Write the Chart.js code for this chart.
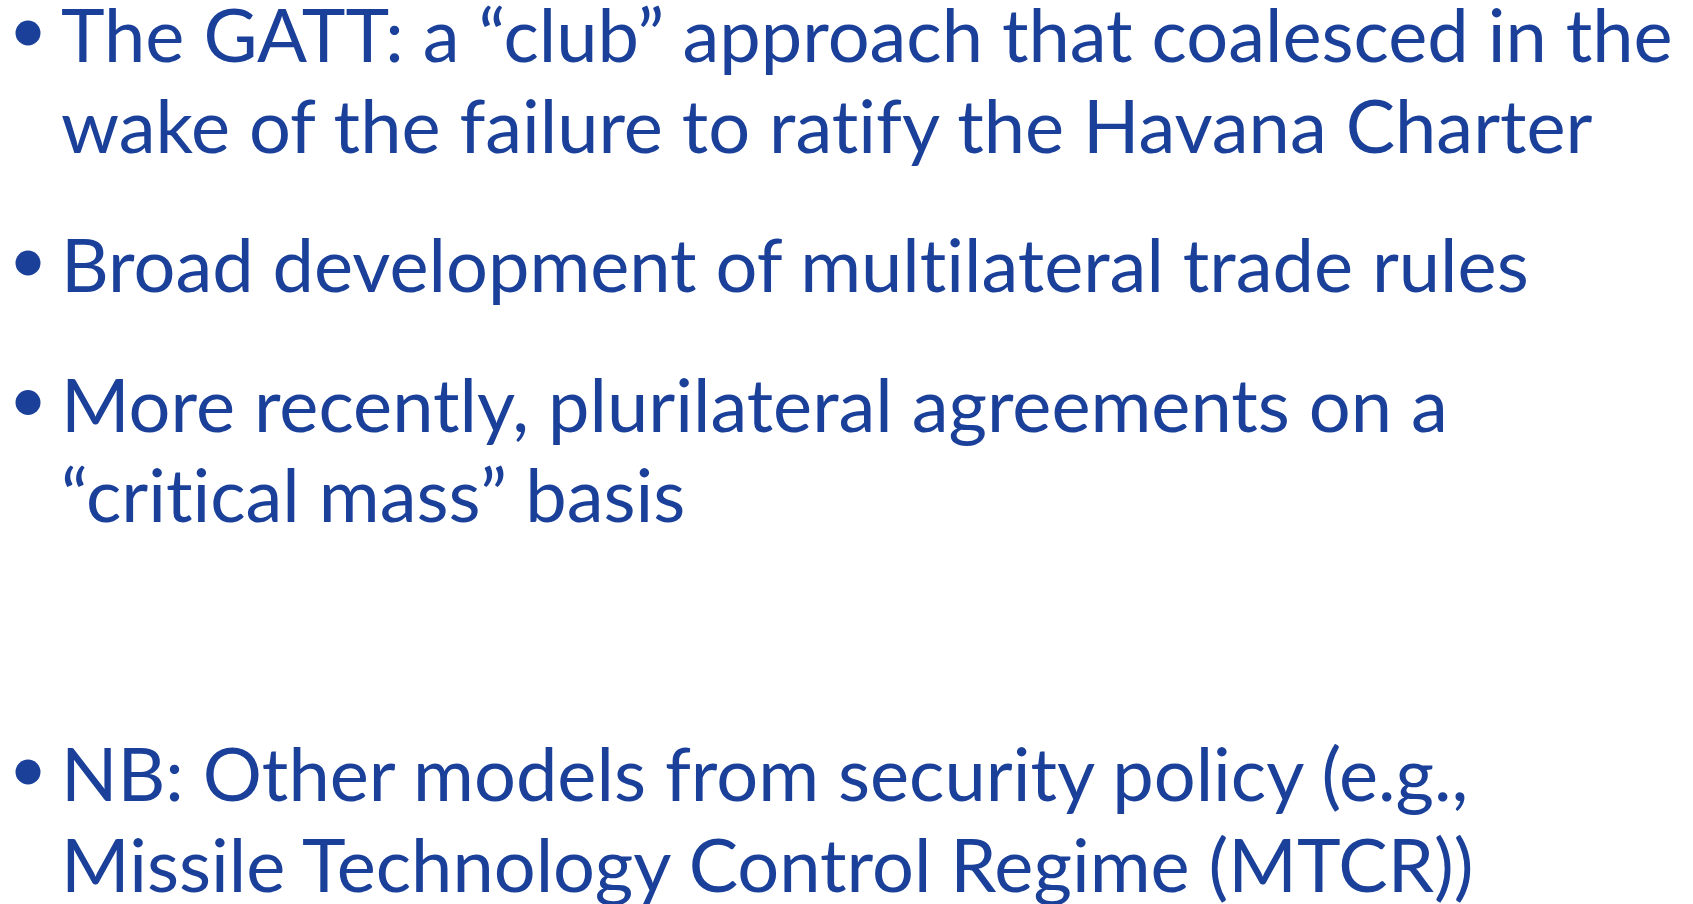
<!DOCTYPE html>
<html>
<head>
<meta charset="utf-8">
<script src="https://cdn.jsdelivr.net/npm/chart.js@4/dist/chart.umd.min.js"></script>
<style>
  html, body { margin: 0; padding: 0; background: #ffffff; overflow: hidden; }
  #wrap { position: relative; width: 1693px; height: 904px; }
  #c { position: absolute; left: 0; top: 0; }
  .ln { position: absolute; left: 0; top: 0; white-space: nowrap;
        font-family: "Lato", "Open Sans", sans-serif; font-size: 74px; line-height: 90px;
        font-variant-ligatures: none; font-feature-settings: "liga" 0, "clig" 0;
        color: rgb(26, 64, 154); }
  .mk { display: inline-block; width: 0; height: 0; vertical-align: baseline; }
</style>
</head>
<body>
<div id="wrap"><canvas id="c" width="1693" height="904"></canvas></div>
<script>
// ---- content (slide bullet points) ----
const bullet1 = ["The GATT: a \u201cclub\u201d approach that coalesced in the", "wake of the failure to ratify the Havana Charter"];
const bullet2 = ["Broad development of multilateral trade rules"];
const bullet3 = ["More recently, plurilateral agreements on a", "\u201ccritical mass\u201d basis"];
const spacer  = [];
const bullet4 = ["NB: Other models from security policy (e.g.,", "Missile Technology Control Regime (MTCR))"];
const paragraphs = [bullet1, bullet2, bullet3, spacer, bullet4];

// ---- layout ----
const TEXT_COLOR = "rgb(26, 64, 154)";
const firstBaseline = 62, lineStep = 90.5, paraGap = 49;
const textLeft = 61, bulletX = 28, bulletRise = 29, bulletRadius = 12.5;

// compute baselines for each paragraph line
const lines = [];      // {text, baseline}
const bulletPts = [];  // scatter points for bullet dots
let y = firstBaseline;
paragraphs.forEach(p => {
  if (p.length === 0) { y += lineStep + paraGap; return; }
  bulletPts.push({ x: bulletX, y: y - bulletRise });
  p.forEach((t) => { lines.push({ text: t, baseline: y }); y += lineStep; });
  y += paraGap;
});

// bullets drawn by Chart.js as scatter points in page coordinates
new Chart(document.getElementById('c'), {
  type: 'scatter',
  data: { datasets: [{
    data: bulletPts,
    pointRadius: bulletRadius, pointHoverRadius: bulletRadius,
    backgroundColor: TEXT_COLOR, borderColor: TEXT_COLOR, borderWidth: 0
  }]},
  options: {
    responsive: false, animation: false,
    layout: { padding: 0, autoPadding: false },
    plugins: { legend: { display: false }, tooltip: { enabled: false }, title: { display: false } },
    scales: {
      x: { type: 'linear', display: false, min: 0, max: 1693, offset: false },
      y: { type: 'linear', display: false, min: 0, max: 904, reverse: true, offset: false }
    }
  }
});

// text as real HTML text, positioned on baselines
const wrap = document.getElementById('wrap');
function place() {
  lines.forEach(l => {
    const d = document.createElement('div');
    d.className = 'ln';
    d.textContent = l.text;
    const m = document.createElement('span');
    m.className = 'mk';
    d.appendChild(m);
    wrap.appendChild(d);
    const off = m.offsetTop + m.offsetHeight;
    d.style.left = textLeft + 'px';
    d.style.top = (l.baseline - off) + 'px';
  });
}
if (document.fonts && document.fonts.load) {
  document.fonts.load('74px "Lato"').then(place, place);
} else { place(); }
</script>
</body>
</html>
